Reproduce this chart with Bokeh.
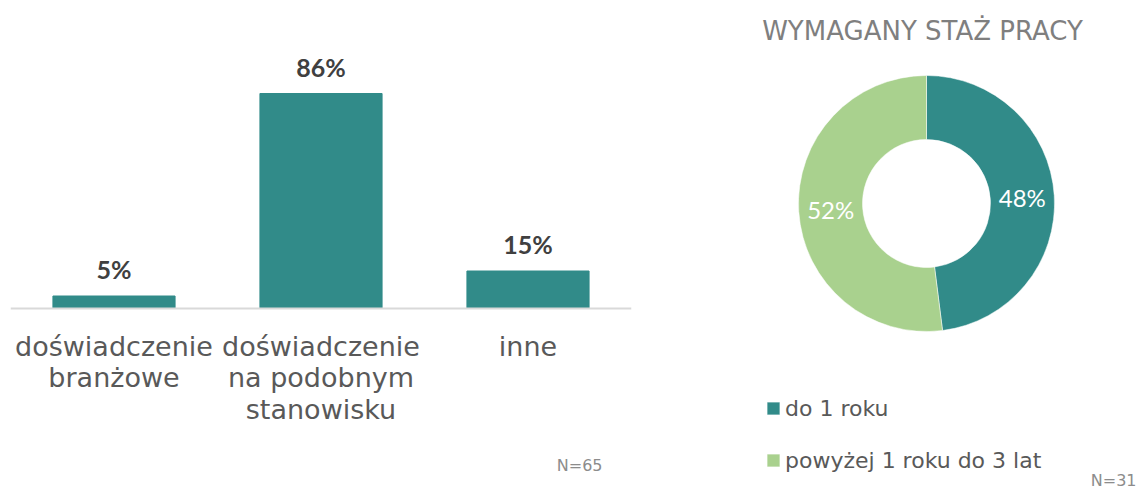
import numpy as np
from bokeh.plotting import figure
from bokeh.models import FactorRange, Range1d, Label, Legend, LegendItem, ColumnDataSource
from bokeh.layouts import row
from bokeh.core.properties import value
from bokeh.embed import file_html
from bokeh.resources import INLINE

# ---- data ----
categories = ["doświadczenie\nbranżowe", "doświadczenie\nna podobnym\nstanowisku", "inne"]
shares = [5, 86, 15]
bar_labels = ["5%", "86%", "15%"]
n_left = "N=65"

donut_title = "WYMAGANY STAŻ PRACY"
donut_cats = ["do 1 roku", "powyżej 1 roku do 3 lat"]
donut_vals = [48, 52]
donut_labels = ["48%", "52%"]
n_right = "N=31"

TEAL = "#318B89"
GREEN = "#A9D18E"
FONT = "DejaVu Sans"
TXT = "#595959"

# ---- left: bar chart ----
p1 = figure(x_range=FactorRange(factors=categories, range_padding=0), y_range=Range1d(-74.4, 123.2),
            width=650, height=494, output_backend="svg", toolbar_location=None,
            y_axis_location=None, min_border_left=10, min_border_right=19,
            min_border_top=0, min_border_bottom=0)
p1.outline_line_color = None
p1.xgrid.grid_line_color = None
p1.ygrid.grid_line_color = None

src1 = ColumnDataSource(dict(x=categories, top=shares, lab=bar_labels))
p1.vbar(x="x", top="top", width=0.59, color=TEAL, source=src1)
p1.text(x="x", y="top", text="lab", source=src1, y_offset=-27,
        text_align="center", text_baseline="alphabetic",
        text_font=value("Lato"), text_font_style="bold", text_font_size="25px",
        text_color="#404040")

ax = p1.xaxis[0]
ax.fixed_location = 0
ax.axis_line_color = "#D9D9D9"
ax.axis_line_width = 2
ax.major_tick_line_color = None
ax.minor_tick_line_color = None
ax.major_tick_out = 0
ax.major_tick_in = 0
ax.major_label_standoff = 22
ax.major_label_text_font = FONT
ax.major_label_text_font_size = "27px"
ax.major_label_text_color = TXT
ax.major_label_text_line_height = 1.03

p1.add_layout(Label(x=2.86, y=-62.8, text=n_left, text_align="right", text_baseline="middle",
                    text_font=FONT, text_font_size="16px", text_color="#8C8C8C"))

# ---- right: donut ----
p2 = figure(x_range=Range1d(0, 490), y_range=Range1d(0, 494), width=490, height=494,
            output_backend="svg", toolbar_location=None, x_axis_location=None,
            y_axis_location=None, min_border=0)
p2.outline_line_color = None
p2.xgrid.grid_line_color = None
p2.ygrid.grid_line_color = None

cx, cy = 276, 291
vals = np.array(donut_vals, dtype=float)
fr = vals / vals.sum()
ends = np.cumsum(fr)
starts = ends - fr
start_ang = np.pi / 2 - 2 * np.pi * starts
end_ang = np.pi / 2 - 2 * np.pi * ends
mid_ang = (start_ang + end_ang) / 2
rmid = 96
src2 = ColumnDataSource(dict(x=[cx] * len(vals), y=[cy] * len(vals), s=start_ang, e=end_ang,
                             c=[TEAL, GREEN], cat=donut_cats,
                             lx=cx + rmid * np.cos(mid_ang), ly=cy + rmid * np.sin(mid_ang),
                             lab=donut_labels))
w = p2.annular_wedge(x="x", y="y", inner_radius=64, outer_radius=128,
                     inner_radius_units="screen", outer_radius_units="screen",
                     start_angle="s", end_angle="e", direction="clock",
                     fill_color="c", line_color="white", line_width=0.5, source=src2)
p2.text(x="lx", y="ly", text="lab", source=src2, text_align="center", text_baseline="middle",
        text_font=value("Lato"), text_font_size="24px", text_color="white")

p2.add_layout(Label(x=272, y=464, text=donut_title, text_align="center", text_baseline="middle",
                    text_font=FONT, text_font_size="26px", text_color="#7F7F7F"))
p2.add_layout(Label(x=486, y=14, text=n_right, text_align="right", text_baseline="middle",
                    text_font=FONT, text_font_size="16px", text_color="#8C8C8C"))

legend = Legend(items=[LegendItem(label=c, renderers=[w], index=i) for i, c in enumerate(donut_cats)],
                location=(115, 21), orientation="vertical", padding=0, margin=0,
                spacing=26, glyph_width=16, glyph_height=16, label_standoff=4, label_height=26,
                label_text_font=FONT, label_text_font_size="22px", label_text_color=TXT,
                border_line_color=None, background_fill_alpha=0)
p2.add_layout(legend)

layout = row(p1, p2)
open("out.html", "w").write(file_html(layout, INLINE))
